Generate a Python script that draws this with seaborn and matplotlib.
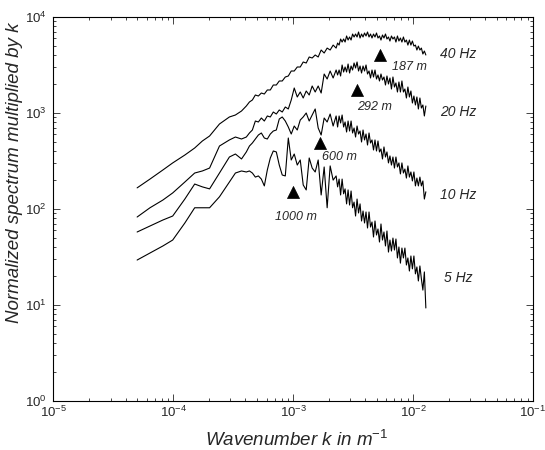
import numpy as np
import pandas as pd
import matplotlib
matplotlib.use("Agg")
import matplotlib.pyplot as plt
import seaborn as sns

# ── Values ─────────────────────────────────────────────────
# wavenumber bins (1/m): sparse at low k, denser where the spectra get noisy
k_coarse = [5.0e-5, 6.4e-5, 8.2e-5, 9.9e-5, 1.25e-4, 1.51e-4, 1.75e-4, 2.01e-4,
            2.43e-4, 2.94e-4, 3.30e-4, 3.71e-4]
k_fine = [4.07e-4, 4.32e-4, 4.57e-4, 4.84e-4, 5.13e-4, 5.43e-4, 5.75e-4, 6.09e-4,
          6.45e-4, 6.83e-4, 7.24e-4, 7.66e-4, 8.11e-4, 8.60e-4, 9.11e-4, 9.64e-4,
          1.021e-3, 1.082e-3, 1.146e-3, 1.213e-3, 1.285e-3, 1.361e-3, 1.441e-3, 1.527e-3,
          1.617e-3, 1.712e-3, 1.814e-3, 1.921e-3, 2.035e-3, 2.155e-3, 2.282e-3]
k_dense = [2.348e-3, 2.417e-3, 2.487e-3, 2.560e-3, 2.635e-3, 2.711e-3, 2.790e-3, 2.871e-3,
           2.955e-3, 3.041e-3, 3.130e-3, 3.221e-3, 3.315e-3, 3.411e-3, 3.510e-3, 3.613e-3,
           3.718e-3, 3.826e-3, 3.937e-3, 4.052e-3, 4.170e-3, 4.292e-3, 4.417e-3, 4.545e-3,
           4.678e-3, 4.814e-3, 4.954e-3, 5.098e-3, 5.247e-3, 5.400e-3, 5.557e-3, 5.719e-3,
           5.886e-3, 6.057e-3, 6.234e-3, 6.415e-3, 6.602e-3, 6.794e-3, 6.992e-3, 7.196e-3,
           7.406e-3, 7.621e-3, 7.843e-3, 8.072e-3, 8.307e-3, 8.549e-3, 8.798e-3, 9.054e-3,
           9.318e-3, 9.592e-3, 9.871e-3, 1.016e-2, 1.046e-2, 1.076e-2, 1.107e-2, 1.140e-2,
           1.173e-2, 1.207e-2, 1.242e-2, 1.278e-2]
wavenumber = k_coarse + k_fine + k_dense

s_40hz = [166, 205, 255, 302, 365, 432, 511, 576, 768, 909, 953, 1049,
          1183, 1302, 1366, 1540, 1503, 1615, 1577, 1737, 1737, 1957, 1957, 2155,
          2155, 2371, 2429, 2738, 2738, 3014, 3014, 3398, 3317, 3831, 3740, 4020,
          3831, 4530, 4215, 4746, 4530, 5100, 4746,
          5355, 5100, 5900, 5485, 5900, 5485, 6341, 5755, 6190, 5755, 6649, 6190,
          6649, 6190, 6977, 6043, 6649, 6190, 6811, 6341, 6977, 6190, 6649, 6043,
          6649, 6190, 6811, 6043, 6341, 5755, 6495, 6043, 6649, 5900, 6190, 5619,
          6341, 5900, 6190, 5485, 6341, 5619, 6043, 5485, 6190, 5485, 5755, 5100,
          5755, 5100, 5619, 4980, 5100, 4530, 4980, 4530, 4746, 4115, 4422, 4020]
s_20hz = [82.5, 103, 124, 147, 191, 237, 249, 267, 453, 524, 562, 536,
          562, 619, 665, 825, 806, 887, 825, 931, 909, 1024, 976, 1075,
          1024, 1155, 1101, 1366, 1821, 1468, 1655, 1433, 1695, 1540, 1911, 1655,
          1911, 1615, 2548, 2260, 2738, 2315, 2805,
          2490, 2805, 2429, 3162, 2673, 3014, 2673, 3238, 2610, 3087, 2805, 3317,
          2942, 3398, 2738, 3087, 2610, 3087, 2738, 3162, 2548, 2738, 2315, 2805,
          2371, 2805, 2260, 2490, 2155, 2548, 2205, 2371, 1957, 2429, 2005, 2315,
          1778, 2371, 1865, 2054, 1655, 2104, 1655, 2155, 1655, 1778, 1433, 1865,
          1468, 1695, 1271, 1503, 1212, 1468, 1101, 1433, 1127, 1212, 931, 1183]
s_10hz = [57.6, 66.5, 76.8, 84.5, 127, 182, 170, 162, 237, 348, 374, 332,
          393, 453, 487, 536, 590, 619, 549, 536, 604, 649, 665, 866,
          909, 825, 715, 604, 732, 665, 845, 909, 1000, 825, 953, 1101,
          698, 590, 887, 806, 976, 732, 931,
          715, 931, 787, 953, 715, 806, 634, 825, 649, 825, 619, 698,
          562, 732, 604, 649, 499, 665, 524, 604, 464, 619, 487, 524,
          412, 524, 402, 511, 393, 422, 332, 443, 348, 393, 302, 357,
          287, 348, 267, 348, 274, 302, 232, 302, 237, 261, 210, 281,
          215, 243, 196, 243, 174, 210, 174, 215, 174, 196, 127, 151]
s_5hz = [29.4, 34.8, 41.2, 47.5, 71.5, 103, 103, 103, 134, 191, 237, 249,
         243, 249, 237, 215, 221, 205, 174, 255, 340, 402, 393, 287,
         226, 221, 549, 324, 374, 287, 324, 178, 158, 340, 267, 243,
         324, 140, 274, 103, 281, 200, 221,
         170, 205, 140, 205, 144, 162, 113, 158, 110, 154, 103, 118,
         84.5, 127, 90.9, 113, 75.0, 95.3, 71.5, 93.1, 63.4, 93.1, 64.9, 73.2,
         51.1, 75.0, 53.6, 61.9, 45.3, 69.8, 47.5, 57.6, 41.2, 59.0, 35.6, 47.5,
         36.5, 49.8, 37.4, 48.7, 30.9, 40.2, 27.3, 39.2, 30.9, 39.2, 26.1, 30.9,
         22.6, 32.4, 23.8, 32.4, 21.1, 24.9, 17.8, 25.5, 18.7, 14.3, 22.1, 9.31]
curve_names = ['40 Hz', '20 Hz', '10 Hz', '5 Hz']

# peak wavelengths marked with triangles (k = 1/lambda)
wavelength_m = [187, 292, 600, 1000]
marker_level = [4020, 1740, 483, 152]

# where the frequency labels sit
label_k = [0.0167, 0.0168, 0.0168, 0.0180]
label_level = [4115, 1032, 140, 19.0]

# ── Style ─────────────────────────────────────────────────
sns.set_style("ticks")
plt.rcParams['font.family'] = ['Liberation Sans', 'DejaVu Sans']
plt.rcParams['mathtext.fontset'] = 'custom'
plt.rcParams['mathtext.rm'] = 'Liberation Sans'
plt.rcParams['mathtext.it'] = 'Liberation Sans:italic'

df = pd.concat([
    pd.DataFrame({'k': wavenumber, 'S': s, 'curve': name})
    for name, s in zip(curve_names, [s_40hz, s_20hz, s_10hz, s_5hz])
], ignore_index=True)

fig = plt.figure(figsize=(5.45, 4.5), dpi=100)
ax = fig.add_axes([53.3 / 545, 49 / 450, 479.7 / 545, 384 / 450])

sns.lineplot(data=df, x='k', y='S', units='curve', estimator=None, sort=False,
             color='black', linewidth=0.8, ax=ax)

marker_k = 1.0 / np.array(wavelength_m, dtype=float)
sns.scatterplot(x=marker_k, y=marker_level, marker='^', s=75, color='black',
                edgecolor='black', linewidth=0.5, ax=ax, zorder=5)

offsets = [(8, -8.4), (0, -12.2), (1.5, -9.6), (-13, -18)]
for kk, lev, w, off in zip(marker_k, marker_level, wavelength_m, offsets):
    ax.annotate(f'{w} m', (kk, lev), xytext=off, textcoords='offset points',
                ha='left', va='center', fontsize=9, style='italic')

for name, kk, lev in zip(curve_names, label_k, label_level):
    ax.text(kk, lev, name, ha='left', va='center', fontsize=10, style='italic')

ax.set_xscale('log')
ax.set_yscale('log')
ax.set_xlim(1e-5, 1e-1)
ax.set_ylim(1e0, 1e4)

ax.set_xlabel(r'Wavenumber k in m$^{\mathit{-1}}$', fontsize=13.5, style='italic')
ax.set_ylabel('Normalized spectrum multiplied by k', fontsize=13.5, style='italic')
ax.xaxis.set_label_coords(0.508, -0.075)
ax.yaxis.set_label_coords(-0.063, 0.594)

ax.tick_params(which='both', direction='in', top=True, right=True,
               width=0.6, labelsize=9.5)
ax.tick_params(which='major', length=5)
ax.tick_params(which='minor', length=2.5)
ax.tick_params(axis='x', pad=3)
ax.tick_params(axis='y', pad=5)
for sp in ax.spines.values():
    sp.set_linewidth(0.8)
    sp.set_color('black')

fig.savefig('out.png', dpi=100)
plt.close(fig)
